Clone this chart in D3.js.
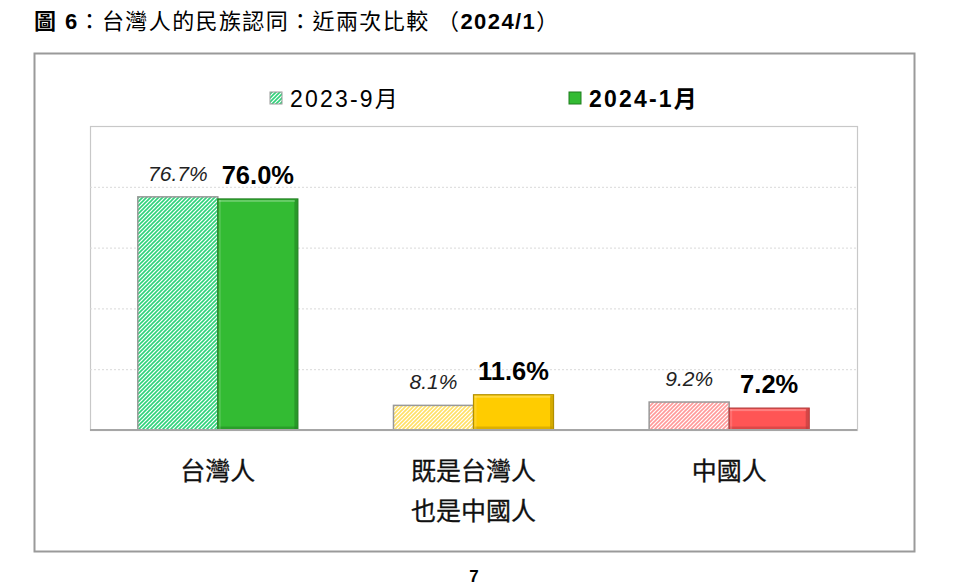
<!DOCTYPE html>
<html><head><meta charset="utf-8">
<script src="https://cdn.jsdelivr.net/npm/d3@7"></script>
<style>
html,body{margin:0;padding:0;background:#fff;}
text{font-family:"Liberation Sans",Arial,"Noto Sans CJK TC",sans-serif;}
</style></head>
<body>
<svg id="chart" width="960" height="588"></svg>
<script>
const categories = [["台灣人"], ["既是台灣人", "也是中國人"], ["中國人"]];
const seriesNames = ["2023-9月", "2024-1月"];
const values2023 = [76.7, 8.1, 9.2];
const values2024 = [76.0, 11.6, 7.2];
const yTicks = [0, 20, 40, 60, 80, 100];
const solidColors = ["#33bb33", "#ffcc00", "#ff5555"];
const solidDark = ["#1f7d1f", "#b38f00", "#b33a3a"];
const hatchColors = ["#2fd27a", "#ffe066", "#ff9a9a"];

const svg = d3.select("#chart");
const plot = {left: 90, right: 857, top: 126, bottom: 430};

// title
const title = svg.append("text").attr("x", 34).attr("y", 29).attr("font-size", 22)
  .attr("letter-spacing", 1.4).attr("fill", "#000");
title.append("tspan").attr("font-weight", "bold").text("圖 6");
title.append("tspan").text("：台灣人的民族認同：近兩次比較 （");
title.append("tspan").attr("font-weight", "bold").text("2024/1");
title.append("tspan").text("）");

// outer frame
svg.append("rect").attr("x", 34.5).attr("y", 53.5).attr("width", 880).attr("height", 498)
  .attr("fill", "#fff").attr("stroke", "#9a9a9a").attr("stroke-width", 2);

const defs = svg.append("defs");
hatchColors.forEach((c, i) => {
  const p = defs.append("pattern").attr("id", "hatch" + i).attr("patternUnits", "userSpaceOnUse")
    .attr("width", 4).attr("height", 4);
  p.append("rect").attr("width", 4).attr("height", 4).attr("fill", "#fff");
  p.append("path").attr("d", "M-1,1 l2,-2 M0,4 l4,-4 M3,5 l2,-2")
    .attr("stroke", c).attr("stroke-width", 1.6);
});

const x = d3.scaleBand().domain(d3.range(categories.length)).range([plot.left, plot.right])
  .paddingInner(0.374).paddingOuter(0.187);
const x1 = d3.scaleBand().domain(seriesNames).range([0, x.bandwidth()]);
const y = d3.scaleLinear().domain([0, 100]).range([plot.bottom, plot.top]);

// plot area border
svg.append("rect").attr("x", plot.left + 0.5).attr("y", plot.top + 0.5)
  .attr("width", plot.right - plot.left).attr("height", plot.bottom - plot.top)
  .attr("fill", "none").attr("stroke", "#c8c8c8").attr("stroke-width", 1.2);

// gridlines
const grid = svg.append("g").attr("transform", `translate(${plot.left},0)`)
  .call(d3.axisLeft(y).tickValues(yTicks.filter(t => t > 0 && t < 100))
    .tickSize(-(plot.right - plot.left)).tickFormat(""));
grid.select(".domain").remove();
grid.selectAll(".tick line").attr("stroke", "#d9d9d9").attr("stroke-dasharray", "2,2");

// bars
categories.forEach((cat, i) => {
  const gx = x(i);
  const v0 = values2023[i];
  svg.append("rect").attr("x", gx + x1(seriesNames[0])).attr("y", y(v0))
    .attr("width", x1.bandwidth()).attr("height", y(0) - y(v0))
    .attr("fill", `url(#hatch${i})`).attr("stroke", "#999").attr("stroke-width", 1.5);
  const v1 = values2024[i];
  const bx = gx + x1(seriesNames[1]), by = y(v1), bw = x1.bandwidth(), bh = y(0) - y(v1);
  svg.append("rect").attr("x", bx).attr("y", by).attr("width", bw).attr("height", bh)
    .attr("fill", solidColors[i]).attr("stroke", solidDark[i]).attr("stroke-width", 1.2);
  svg.append("rect").attr("x", bx + bw - 3.5).attr("y", by + 1).attr("width", 3).attr("height", bh - 1)
    .attr("fill", solidDark[i]).attr("opacity", 0.55);
  svg.append("rect").attr("x", bx + 1).attr("y", by + bh - 3.5).attr("width", bw - 2).attr("height", 3)
    .attr("fill", solidDark[i]).attr("opacity", 0.45);
  svg.append("rect").attr("x", bx + 1).attr("y", by + 1).attr("width", bw - 4).attr("height", 2)
    .attr("fill", "#fff").attr("opacity", 0.25);
  svg.append("rect").attr("x", bx + 1).attr("y", by + 1).attr("width", 2).attr("height", bh - 2)
    .attr("fill", "#fff").attr("opacity", 0.15);

  // value labels
  svg.append("text").attr("x", gx + x1(seriesNames[0]) + bw / 2).attr("y", y(v0) - 16)
    .attr("text-anchor", "middle").attr("font-size", 21).attr("font-style", "italic")
    .attr("fill", "#222").text(v0.toFixed(1) + "%");
  svg.append("text").attr("x", bx + bw / 2).attr("y", y(v1) - 15)
    .attr("text-anchor", "middle").attr("font-size", 25.5).attr("font-weight", "bold")
    .attr("fill", "#000").text(v1.toFixed(1) + "%");

  // category labels
  cat.forEach((line, j) => {
    svg.append("text").attr("x", gx + x.bandwidth() / 2).attr("y", 480 + j * 40)
      .attr("text-anchor", "middle").attr("font-size", 25).attr("fill", "#111")
      .attr("stroke", "#111").attr("stroke-width", 0.3)
      .attr("font-family", "'Noto Sans CJK TC', sans-serif").text(line);
  });
});

// baseline
svg.append("line").attr("x1", plot.left).attr("x2", plot.right).attr("y1", y(0)).attr("y2", y(0))
  .attr("stroke", "#a6a6a6").attr("stroke-width", 2);

// legend
const legend = [{x: 270, name: seriesNames[0], hatch: true}, {x: 569, name: seriesNames[1], hatch: false}];
legend.forEach(d => {
  if (d.hatch) {
    svg.append("rect").attr("x", d.x).attr("y", 92).attr("width", 12).attr("height", 12)
      .attr("fill", "url(#hatch0)").attr("stroke", "#999").attr("stroke-width", 1);
  } else {
    svg.append("rect").attr("x", d.x).attr("y", 92).attr("width", 12).attr("height", 12)
      .attr("fill", solidColors[0]).attr("stroke", solidDark[0]).attr("stroke-width", 1);
  }
  svg.append("text").attr("x", d.x + 20).attr("y", 107).attr("font-size", 23)
    .attr("letter-spacing", 2.2)
    .attr("font-weight", d.hatch ? "normal" : "bold").attr("fill", "#000").text(d.name);
});

// page number
svg.append("text").attr("x", 474).attr("y", 582).attr("text-anchor", "middle")
  .attr("font-size", 17).attr("font-weight", "bold").text("7");
</script>
</body></html>
